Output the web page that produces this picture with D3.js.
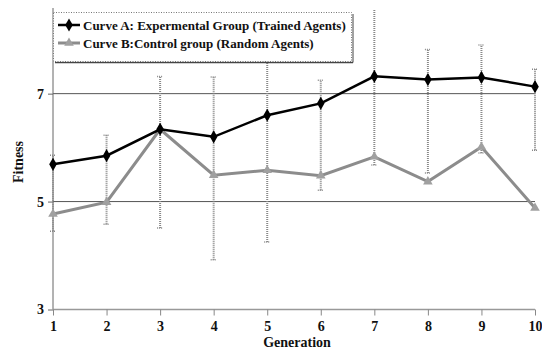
<!DOCTYPE html>
<html><head><meta charset="utf-8">
<script src="https://cdn.jsdelivr.net/npm/d3@7"></script>
<style>body{margin:0;background:#fff}svg{display:block}text{font-family:"Liberation Serif","Times New Roman",serif;font-weight:bold}</style>
</head><body><svg id="c" width="542" height="350"></svg>
<script>
const generations = [1,2,3,4,5,6,7,8,9,10];
const curveA = [5.69,5.85,6.34,6.20,6.60,6.82,7.32,7.26,7.30,7.13];
const curveB = [4.77,4.99,6.34,5.49,5.58,5.48,5.83,5.37,6.01,4.88];
const errHigh = [5.86,6.23,7.32,7.31,7.58,7.25,9.0,7.82,7.90,7.45];
const errLow  = [4.45,4.58,4.51,3.92,4.25,5.21,5.68,5.53,5.90,5.95];
const yTicks = [3,5,7];
const seriesNames = ["Curve A: Expermental Group (Trained Agents)","Curve B:Control group (Random Agents)"];

const svg = d3.select("#c");
const L=53,R=535,T=10,B=309.5;
const x = d3.scaleLinear().domain([1,10]).range([L,R]);
const y = d3.scaleLinear().domain([3,8.55]).range([B,T]);

svg.append("defs").append("clipPath").attr("id","pc").append("rect").attr("x",L-10).attr("y",T).attr("width",R-L+20).attr("height",B-T+10);

// gridlines
svg.append("g").selectAll("line").data(yTicks.filter(d=>d>3)).join("line")
  .attr("x1",L).attr("x2",R).attr("y1",d=>y(d)).attr("y2",d=>y(d))
  .attr("stroke","#555").attr("stroke-width",1);

// y axis
const ya = svg.append("g").attr("transform",`translate(${L},0)`)
  .call(d3.axisLeft(y).tickValues(yTicks).tickSize(5).tickPadding(4).tickFormat(d3.format("d")));
ya.select(".domain").attr("stroke","#666").attr("d",`M0,${T-2}V${B}`);
ya.selectAll(".tick line").attr("stroke","#666");
ya.selectAll("text").attr("font-size",14).attr("fill","#111").attr("font-family","Liberation Serif").attr("font-weight","bold");

// x axis
const xa = svg.append("g").attr("transform",`translate(0,${B})`)
  .call(d3.axisBottom(x).tickValues(generations).tickSize(6).tickPadding(6).tickFormat(d3.format("d")));
xa.select(".domain").attr("stroke","#999").attr("stroke-width",1.5).attr("d",`M${L},0H${R}`);
xa.selectAll(".tick line").attr("stroke","#888");
xa.selectAll("text").attr("font-size",14).attr("fill","#111").attr("font-family","Liberation Serif").attr("font-weight","bold");

// error bars
const eb = svg.append("g").attr("clip-path","url(#pc)");
generations.forEach((g,i)=>{
  const cx=x(g);
  eb.append("line").attr("x1",cx).attr("x2",cx).attr("y1",y(errLow[i])).attr("y2",y(errHigh[i]))
    .attr("stroke","#888").attr("stroke-width",2).attr("stroke-dasharray","1,1");
  [errLow[i],errHigh[i]].forEach(v=>{
    eb.append("line").attr("x1",cx-3).attr("x2",cx+3).attr("y1",y(v)).attr("y2",y(v))
      .attr("stroke","#888").attr("stroke-width",1.5).attr("stroke-dasharray","1,1");
  });
});

const line = d3.line().x((d,i)=>x(generations[i])).y(d=>y(d));
// curve B
svg.append("path").datum(curveB).attr("d",line).attr("fill","none").attr("stroke","#8c8c8c").attr("stroke-width",3);
svg.append("g").selectAll("path").data(curveB).join("path")
  .attr("d",d3.symbol(d3.symbolTriangle,40)())
  .attr("transform",(d,i)=>`translate(${x(generations[i])},${y(d)})`).attr("fill","#a0a0a0");
// curve A
svg.append("path").datum(curveA).attr("d",line).attr("fill","none").attr("stroke","#000").attr("stroke-width",2.5);
svg.append("g").selectAll("path").data(curveA).join("path")
  .attr("d",d3.symbol(d3.symbolDiamond,50)())
  .attr("transform",(d,i)=>`translate(${x(generations[i])},${y(d)})`).attr("fill","#000");

// axis titles
svg.append("text").attr("x",(L+R)/2+3).attr("y",347).attr("text-anchor","middle").attr("font-size",14).attr("fill","#111").text("Generation");
svg.append("text").attr("transform","translate(23,162) rotate(-90)").attr("text-anchor","middle").attr("font-size",14).attr("fill","#111").text("Fitness");

// legend
const lg = svg.append("g");
lg.append("line").attr("x1",55).attr("x2",353).attr("y1",62.5).attr("y2",62.5).attr("stroke","#444").attr("stroke-width",1.5);
lg.append("line").attr("x1",353).attr("x2",353).attr("y1",14).attr("y2",62.5).attr("stroke","#444").attr("stroke-width",1);
lg.append("rect").attr("x",53.5).attr("y",12.5).attr("width",298).attr("height",49).attr("fill","#fff")
  .attr("stroke","#777").attr("stroke-dasharray","1,1.5");
const rows=[{c:"#000",w:2.5,sym:d3.symbolDiamond,fc:"#000",yy:25},{c:"#8c8c8c",w:3,sym:d3.symbolTriangle,fc:"#a0a0a0",yy:43}];
rows.forEach((r,i)=>{
  lg.append("line").attr("x1",58).attr("x2",80).attr("y1",r.yy).attr("y2",r.yy).attr("stroke",r.c).attr("stroke-width",r.w);
  lg.append("path").attr("d",d3.symbol(r.sym,i?40:50)()).attr("transform",`translate(69,${r.yy})`).attr("fill",r.fc);
  lg.append("text").attr("x",83).attr("y",r.yy+4.5).attr("font-size",13).attr("fill","#111").text(seriesNames[i]);
});
</script></body></html>
